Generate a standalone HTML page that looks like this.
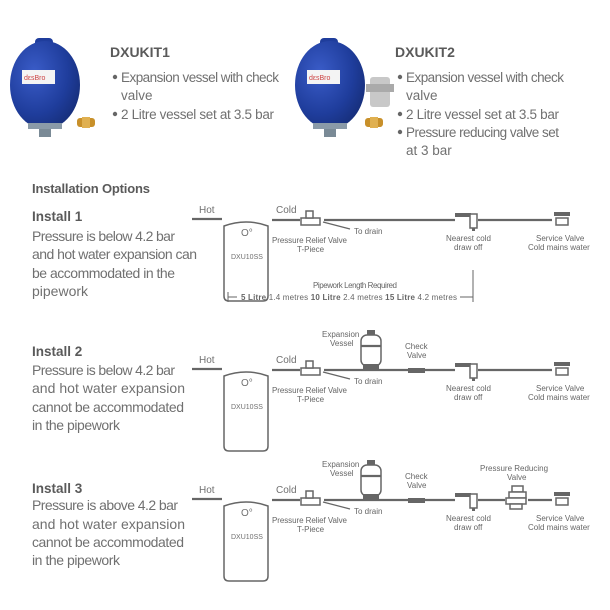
<!DOCTYPE html>
<html><head><meta charset="utf-8"><style>
body{margin:0;background:#fff}
svg{display:block}
text{font-family:"Liberation Sans",sans-serif;fill:#707070}
.h{font-weight:bold;fill:#5a5a5a}
.s{font-size:8px;fill:#666}
.l{stroke:#666;stroke-width:2.2;fill:none}
.o{stroke:#666;stroke-width:1.5;fill:#fff}
.d{fill:#666}
</style></head><body>
<svg width="610" height="610" viewBox="0 0 610 610">
<defs>
<radialGradient id="bg" cx="0.35" cy="0.35" r="0.8"><stop offset="0" stop-color="#3a5cc8"/><stop offset="0.6" stop-color="#1f3d9c"/><stop offset="1" stop-color="#142a70"/></radialGradient>
<g id="vessel">
<rect x="35" y="38" width="18" height="10" rx="4" fill="#1f3d9c"/>
<ellipse cx="45" cy="85" rx="35" ry="44" fill="url(#bg)"/>
<rect x="22" y="70" width="33" height="14" fill="#f4f4f4"/>
<text x="24" y="80" style="font-size:7px;fill:#c44">dεsBro</text>
<rect x="28" y="123" width="34" height="6" fill="#8a9aa8"/>
<rect x="39" y="129" width="12" height="8" fill="#7a8a96"/>
</g>
<g id="fitting"><rect x="0" y="0" width="18" height="9" rx="3" fill="#c8902a"/><rect x="5" y="-1" width="8" height="11" fill="#e0b050"/></g>
<g id="boiler">
<path class="o" d="M224,226 Q246,218 268,226 L268,296 Q268,301 263,301 L229,301 Q224,301 224,296 Z"/>
<text x="241" y="236" style="font-size:10px">O°</text>
<text x="231" y="259" style="font-size:7px">DXU10SS</text>
</g>
<g id="base">
<line class="l" x1="192" y1="219" x2="222" y2="219"/>
<text x="199" y="213" style="font-size:10px">Hot</text>
<text x="276" y="213" style="font-size:10px">Cold</text>
<line class="l" x1="272" y1="220" x2="300" y2="220"/>
<rect class="o" x="301" y="218" width="19" height="7"/>
<rect class="o" x="306" y="211" width="7" height="7"/>
<line x1="323" y1="222" x2="350" y2="229" stroke="#666" stroke-width="1.2"/>
<text x="354" y="234" class="s">To drain</text>
<text x="272" y="243" class="s" textLength="75">Pressure Relief Valve</text>
<text x="297" y="252" class="s">T-Piece</text>
<rect class="d" x="455" y="213" width="16" height="4"/>
<rect class="o" x="470" y="214" width="7" height="14"/>
<rect class="d" x="472" y="228" width="3" height="3"/>
<text x="446" y="241" class="s">Nearest cold</text>
<text x="454" y="250" class="s">draw off</text>
<rect class="d" x="554" y="212" width="16" height="4"/>
<rect class="o" x="556" y="218" width="12" height="7"/>
<text x="536" y="241" class="s">Service Valve</text>
<text x="528" y="250" class="s">Cold mains water</text>
<use href="#boiler"/>
</g>
<g id="vsl">
<rect class="d" x="367" y="180" width="8" height="5"/>
<rect class="o" x="361" y="185" width="20" height="31" rx="6"/>
<line class="l" x1="361" y1="196" x2="381" y2="196" stroke-width="1.5"/>
<rect class="d" x="363" y="214" width="16" height="5"/>
<text x="322" y="187" class="s">Expansion</text>
<text x="330" y="196" class="s">Vessel</text>
<rect class="d" x="408" y="218" width="17" height="5"/>
<text x="405" y="199" class="s">Check</text>
<text x="407" y="208" class="s">Valve</text>
</g>
</defs>

<use href="#vessel"/>
<use href="#fitting" x="77" y="118"/>
<text x="110" y="57" class="h" style="font-size:14px">DXUKIT1</text>
<g style="font-size:13.5px">
<circle cx="115" cy="77" r="2.2" fill="#666"/><text x="121" y="82" textLength="158">Expansion vessel with check</text>
<text x="121" y="100">valve</text>
<circle cx="115" cy="114" r="2.2" fill="#666"/><text x="121" y="119" textLength="153">2 Litre vessel set at 3.5 bar</text>
</g>
<use href="#vessel" x="285"/>
<rect x="370" y="77" width="20" height="30" rx="3" fill="#c8c8c8"/><rect x="366" y="84" width="28" height="8" fill="#aaa"/>
<use href="#fitting" x="365" y="118"/>
<text x="395" y="57" class="h" style="font-size:14px">DXUKIT2</text>
<g style="font-size:13.5px">
<circle cx="400" cy="77" r="2.2" fill="#666"/><text x="406" y="82" textLength="158">Expansion vessel with check</text>
<text x="406" y="100">valve</text>
<circle cx="400" cy="114" r="2.2" fill="#666"/><text x="406" y="119" textLength="153">2 Litre vessel set at 3.5 bar</text>
<circle cx="400" cy="132" r="2.2" fill="#666"/><text x="406" y="137" textLength="153">Pressure reducing valve set</text>
<text x="406" y="155">at 3 bar</text>
</g>

<text x="32" y="193" class="h" style="font-size:13px" textLength="118">Installation Options</text>

<g style="font-size:14px">
<text x="32" y="221" class="h" style="font-size:13.5px">Install 1</text>
<text x="32" y="241" textLength="143">Pressure is below 4.2 bar</text>
<text x="32" y="259" textLength="165">and hot water expansion can</text>
<text x="32" y="278" textLength="143">be accommodated in the</text>
<text x="32" y="296" textLength="56">pipework</text>

<text x="32" y="356" class="h" style="font-size:13.5px">Install 2</text>
<text x="32" y="375" textLength="143">Pressure is below 4.2 bar</text>
<text x="32" y="393" textLength="153">and hot water expansion</text>
<text x="32" y="412" textLength="152">cannot be accommodated</text>
<text x="32" y="430" textLength="88">in the pipework</text>

<text x="32" y="493" class="h" style="font-size:13.5px">Install 3</text>
<text x="32" y="510" textLength="146">Pressure is above 4.2 bar</text>
<text x="32" y="529" textLength="153">and hot water expansion</text>
<text x="32" y="547" textLength="152">cannot be accommodated</text>
<text x="32" y="565" textLength="88">in the pipework</text>
</g>

<!-- row 1 -->
<use href="#base"/>
<line class="l" x1="324" y1="220" x2="455" y2="220"/>
<line class="l" x1="478" y1="220" x2="552" y2="220"/>
<line x1="473" y1="270" x2="473" y2="302" stroke="#666" stroke-width="1"/>
<text x="313" y="288" class="s" textLength="84">Pipework Length Required</text>
<line x1="228" y1="292" x2="228" y2="302" stroke="#666" stroke-width="1"/>
<line x1="228" y1="297" x2="237" y2="297" stroke="#666" stroke-width="1"/>
<line x1="460" y1="297" x2="473" y2="297" stroke="#666" stroke-width="1"/>
<text x="241" y="300" class="s" textLength="216"><tspan font-weight="bold">5 Litre</tspan> 1.4 metres   <tspan font-weight="bold">10 Litre</tspan> 2.4 metres   <tspan font-weight="bold">15 Litre</tspan> 4.2 metres</text>

<!-- row 2 -->
<g transform="translate(0,150)">
<use href="#base"/>
<use href="#vsl"/>
<line class="l" x1="324" y1="220" x2="408" y2="220"/>
<line class="l" x1="425" y1="220" x2="455" y2="220"/>
<line class="l" x1="478" y1="220" x2="552" y2="220"/>
</g>

<!-- row 3 -->
<g transform="translate(0,280)">
<use href="#base"/>
<use href="#vsl"/>
<line class="l" x1="324" y1="220" x2="408" y2="220"/>
<line class="l" x1="425" y1="220" x2="455" y2="220"/>
<line class="l" x1="478" y1="220" x2="505" y2="220"/>
<line class="l" x1="528" y1="220" x2="552" y2="220"/>
<rect class="o" x="512" y="206" width="11" height="6"/>
<rect class="o" x="509" y="212" width="17" height="6"/>
<rect class="o" x="506" y="218" width="20" height="6"/>
<rect class="o" x="510" y="224" width="12" height="5"/>
<text x="480" y="191" class="s">Pressure Reducing</text>
<text x="507" y="200" class="s">Valve</text>
</g>
</svg>
</body></html>
